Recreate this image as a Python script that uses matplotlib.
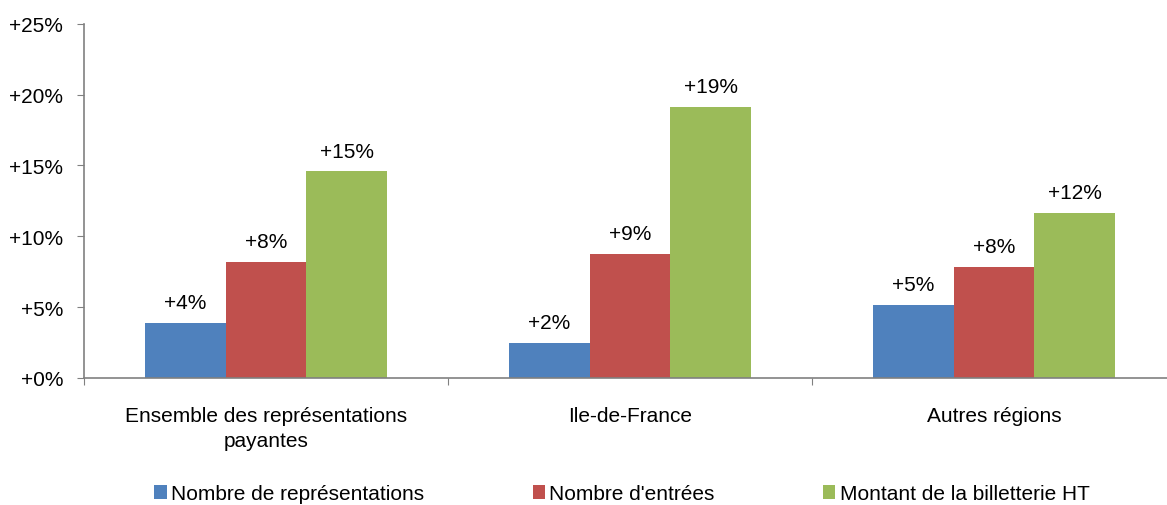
import matplotlib
matplotlib.use("Agg")
import matplotlib.pyplot as plt
import numpy as np
from matplotlib.patches import Patch

plt.rcParams["font.family"] = ["Liberation Sans Narrow", "Liberation Sans", "DejaVu Sans"]

categories = ["Ensemble des représentations\npayantes", "Ile-de-France", "Autres régions"]
series_names = ["Nombre de représentations", "Nombre d'entrées", "Montant de la billetterie HT"]
representations = [3.9, 2.5, 5.15]
entrees = [8.2, 8.75, 7.85]
billetterie = [14.6, 19.15, 11.65]
colors = ["#4F81BD", "#C0504D", "#9BBB59"]

FS = 15

fig = plt.figure(figsize=(11.67, 5.06), dpi=100)
# the plot area runs slightly past the right edge of the picture, as in the original
ax = fig.add_axes([84 / 1167, 0.251, 1092 / 1167, 0.700])

x = np.arange(len(categories))
w = 0.2225
for i, (vals, col) in enumerate(zip([representations, entrees, billetterie], colors)):
    pos = x + (i - 1) * w
    ax.bar(pos, vals, width=w, color=col, edgecolor="none")
    for p, v in zip(pos, vals):
        ax.text(p, v + 0.75, f"+{round(v)}%", ha="center", va="bottom", fontsize=FS)

ax.set_xlim(-0.5, 2.5)
ax.set_ylim(0, 25)
ax.set_yticks(range(0, 26, 5))
ax.set_yticklabels([f"+{t}%" for t in range(0, 26, 5)], fontsize=FS)

ax.set_xticks([-0.5, 0.5, 1.5, 2.5])
ax.set_xticklabels([])
ax.set_xticks(x, minor=True)
ax.set_xticklabels(categories, minor=True, fontsize=FS, linespacing=1.4)
ax.tick_params(axis="x", which="minor", length=0, pad=20)
ax.tick_params(axis="x", which="major", length=5, color="#808080", direction="out")
ax.tick_params(axis="y", length=5, color="#808080", direction="out", pad=10)

for s in ["top", "right"]:
    ax.spines[s].set_visible(False)
for s in ["left", "bottom"]:
    ax.spines[s].set_color("#808080")
    ax.spines[s].set_linewidth(1.2)

handles = [Patch(facecolor=c, edgecolor="none") for c in colors]
fig.legend(handles, series_names, loc="center", bbox_to_anchor=(0.533, 0.022),
           ncol=3, frameon=False, fontsize=FS, handlelength=0.6, handleheight=0.6,
           handletextpad=0.2, columnspacing=5.2)

fig.savefig("out.png", dpi=100, facecolor="white")
